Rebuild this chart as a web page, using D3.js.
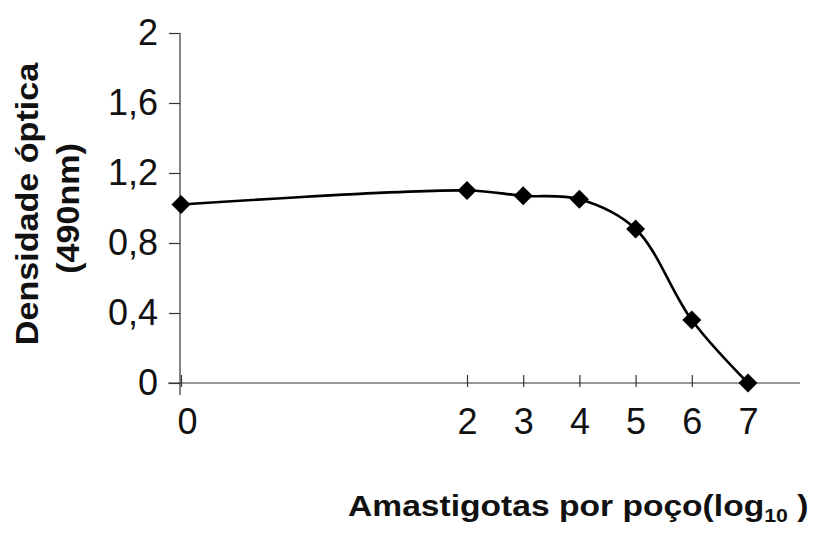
<!DOCTYPE html>
<html lang="pt">
<head>
  <meta charset="UTF-8">
  <title>Densidade óptica vs amastigotas por poço</title>
  <script src="https://d3js.org/d3.v7.min.js"></script>
  <style>
    body {
      margin: 0;
      background: #fff;
      font-family: Arial, "Liberation Sans", sans-serif;
    }
    .tick text {
      font-family: Arial, "Liberation Sans", sans-serif;
      font-size: 36px;
      fill: #111;
    }
    .title {
      font-family: Arial, "Liberation Sans", sans-serif;
      font-weight: bold;
      fill: #111;
    }
  </style>
</head>
<body>
  <svg id="chart" width="826" height="535"></svg>

  <script>
    // data
    const amastigotas = [0, 2, 3, 4, 5, 6, 7];          // log10 per well
    const densidade = [1.02, 1.10, 1.07, 1.05, 0.88, 0.36, 0.0];
    const yTicks = [0, 0.4, 0.8, 1.2, 1.6, 2];

    const svg = d3.select("#chart");

    // the original axis is squeezed: 0 sits far left, 2..7 evenly spaced
    const x = d3.scaleLinear()
      .domain([0, 2, 7])
      .range([181, 467, 748]);

    const y = d3.scaleLinear()
      .domain([0, 2])
      .range([383, 33]);

    const points = amastigotas.map((v, i) => ({ x: v, y: densidade[i] }));

    // axis lines
    svg.append("line")
      .attr("x1", x(0) - 1).attr("x2", x(0) - 1)
      .attr("y1", y(2)).attr("y2", y(0) + 12)
      .attr("stroke", "#333").attr("stroke-width", 1.2);

    svg.append("line")
      .attr("x1", x(0) - 13).attr("x2", 800)
      .attr("y1", y(0)).attr("y2", y(0))
      .attr("stroke", "#333").attr("stroke-width", 1.2);

    // y axis
    const fmt = d => (d === 0 || d === 2) ? String(d) : d.toFixed(1).replace(".", ",");
    const yAxis = svg.append("g")
      .attr("transform", `translate(${x(0) - 1},0)`)
      .call(d3.axisLeft(y).tickValues(yTicks).tickSize(11).tickPadding(11).tickFormat(fmt));
    yAxis.select(".domain").remove();
    yAxis.selectAll(".tick line").attr("stroke", "#333").attr("stroke-width", 1.2);

    // x axis
    const xAxis = svg.append("g")
      .attr("transform", `translate(0,${y(0)})`)
      .call(d3.axisBottom(x).tickValues(amastigotas).tickSize(4).tickFormat(d3.format("d")));
    xAxis.select(".domain").remove();
    xAxis.selectAll(".tick line")
      .attr("y1", -8).attr("y2", 4)
      .attr("stroke", "#333").attr("stroke-width", 1.2);
    xAxis.selectAll(".tick text").attr("y", 25);
    xAxis.selectAll(".tick text").filter(d => d === 0).attr("x", 6);

    // smoothed line
    const line = d3.line()
      .x(d => x(d.x))
      .y(d => y(d.y))
      .curve(d3.curveCatmullRom.alpha(0.5));

    svg.append("path")
      .datum(points)
      .attr("fill", "none")
      .attr("stroke", "#000")
      .attr("stroke-width", 2.6)
      .attr("d", line);

    // diamond markers
    svg.selectAll("path.marker")
      .data(points)
      .enter().append("path")
      .attr("class", "marker")
      .attr("d", d3.symbol(d3.symbolSquare, 180))
      .attr("transform", d => `translate(${x(d.x)},${y(d.y)}) rotate(45)`)
      .attr("fill", "#000");

    // y title, two lines, rotated
    const yt = svg.append("g")
      .attr("transform", "translate(38,204) rotate(-90) scale(1.1,1)");
    yt.append("text")
      .attr("class", "title")
      .attr("text-anchor", "middle")
      .style("font-size", "31px")
      .text("Densidade óptica");
    yt.append("text")
      .attr("class", "title")
      .attr("text-anchor", "middle")
      .attr("transform", "translate(-4,41)")
      .style("font-size", "31px")
      .text("(490nm)");

    // x title
    const xt = svg.append("text")
      .attr("class", "title")
      .attr("transform", "translate(348,516) scale(1.12,1)")
      .style("font-size", "30px");
    xt.append("tspan").text("Amastigotas por poço(log");
    xt.append("tspan").attr("dy", 6).style("font-size", "19px").text("10");
    xt.append("tspan").attr("dy", -6).text(" )");
  </script>
</body>
</html>
